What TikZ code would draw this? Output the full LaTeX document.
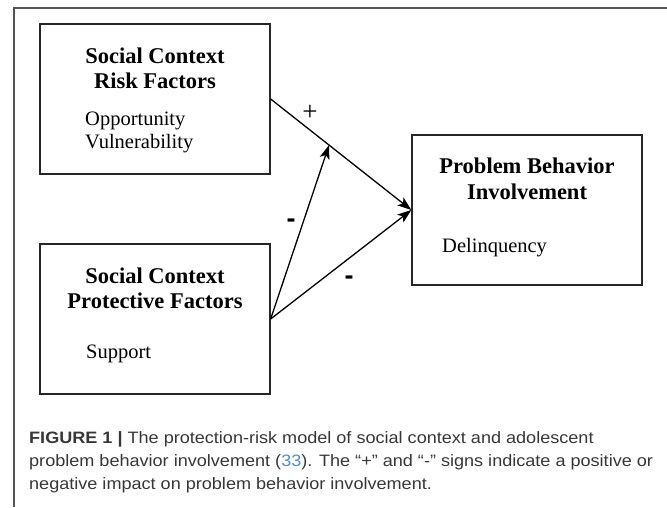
\documentclass[tikz,border=0pt]{standalone}
\usepackage{fontspec}
\setmainfont{Liberation Serif}
\newfontfamily\capfont[FakeStretch=1.095]{Liberation Sans}
\newfontfamily\signfont{Liberation Sans}
\usetikzlibrary{arrows.meta,calc}
\definecolor{framegray}{RGB}{85,85,85}
\definecolor{capgray}{RGB}{55,55,55}
\definecolor{citeblue}{RGB}{80,140,200}
\begin{document}
\begin{tikzpicture}[x=1pt,y=-1pt,
  box/.style={draw=black!85, line width=1.3pt, minimum width=230pt, minimum height=150pt, inner sep=0pt},
  title/.style={anchor=base, font=\fontsize{22.5}{27}\selectfont\bfseries, inner sep=0pt},
  body/.style={anchor=base west, font=\fontsize{20.5}{24}\selectfont, inner sep=0pt},
  conn/.style={line width=1.3pt, -{Stealth[length=14pt,width=10pt,inset=3.5pt]}},
  sign/.style={font=\fontsize{27}{28}\selectfont, inner sep=0pt},
  minus/.style={font=\signfont\bfseries\fontsize{27}{28}\selectfont, inner sep=0pt},
  captext/.style={anchor=base west, font=\capfont\fontsize{16.5}{19}\selectfont, text=capgray, inner sep=0pt}]
\useasboundingbox (0,0) rectangle (667,507);
\draw[framegray, line width=1.2pt] (667,8) -- (14,8) -- (14,507);
% boxes
\node[box] (risk) at (155,99) {};
\node[box] (prot) at (155,319) {};
\node[box] (prob) at (527,210) {};
% risk text
\node[title] (r1) at (155,63) {Social Context};
\node[title] (r2) at (155,88) {Risk Factors};
\node[body] (r3) at (85,125) {Opportunity};
\node[body] (r4) at (85,148) {Vulnerability};
% protective text
\node[title] (p1) at (155,283) {Social Context};
\node[title] (p2) at (155,308) {Protective Factors};
\node[body] (p3) at (86,358) {Support};
% problem text
\node[title] (b1) at (527,173) {Problem Behavior};
\node[title] (b2) at (527,199) {Involvement};
\node[body] (b3) at (442,252) {Delinquency};
% connectors
\draw[conn] (risk.east) -- (prob.west);
\coordinate (m) at ($(risk.east)!0.415!(prob.west)$);
\draw[conn] (prot.east) -- (m);
\draw[conn] (prot.east) -- (prob.west);
% signs
\node[sign] (s1) at (310,113) {+};
\node[minus] (s2) at (291,223) {-};
\node[minus] (s3) at (349,280) {-};
% caption
\node[captext] (c1) at (29,443) {\textbf{FIGURE 1 |} The protection-risk model of social context and adolescent};
\node[captext] (c2) at (29,466) {problem behavior involvement (\textcolor{citeblue}{33}). The “+” and “-” signs indicate a positive or};
\node[captext] (c3) at (29,489) {negative impact on problem behavior involvement.};
\end{tikzpicture}
\end{document}
